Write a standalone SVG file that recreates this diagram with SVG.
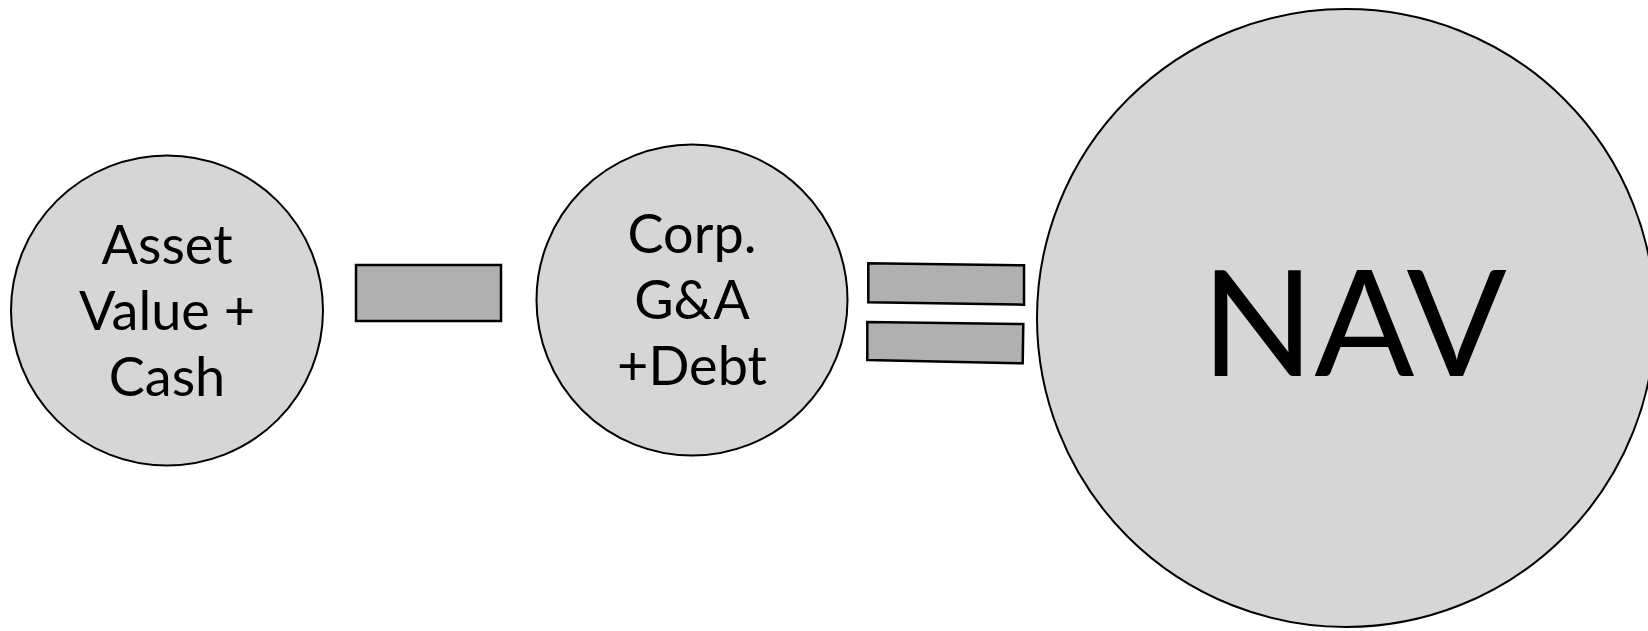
<svg xmlns="http://www.w3.org/2000/svg" width="1648" height="631" viewBox="0 0 1648 631">
<style>
.node{fill:#d6d6d6;stroke:#000;stroke-width:2}
.op{fill:#b0b0b0;stroke:#000;stroke-width:2.5}
.t{font-family:Lato,"Noto Sans",sans-serif;font-size:54px;fill:#000;text-anchor:middle}
.big{font-family:Lato,"Noto Sans",sans-serif;font-size:148px;fill:#000;text-anchor:middle}
</style>
<rect width="1648" height="631" fill="#fff"/>
<g id="asset">
<ellipse class="node" cx="167" cy="310.5" rx="156" ry="155"/>
<text class="t" x="167" y="264">Asset</text>
<text class="t" x="167" y="329.5">Value +</text>
<text class="t" x="167" y="395.5">Cash</text>
</g>
<g id="corp">
<ellipse class="node" cx="692" cy="300" rx="155.5" ry="155.5"/>
<text class="t" x="692" y="253">Corp.</text>
<text class="t" x="692" y="319">G&amp;A</text>
<text class="t" x="692" y="385">+Debt</text>
</g>
<g id="nav">
<circle class="node" cx="1346" cy="318" r="309"/>
<text class="big" x="1354" y="376">NAV</text>
</g>
<g id="connectors">
<rect class="op" x="356" y="265" width="145" height="56"/>
<polygon class="op" points="868.3,263.3 1024,265.3 1024,304.7 868.3,302.3"/>
<polygon class="op" points="867.3,322 1023.3,324 1022.7,363.3 867.3,360"/>
</g>
</svg>
